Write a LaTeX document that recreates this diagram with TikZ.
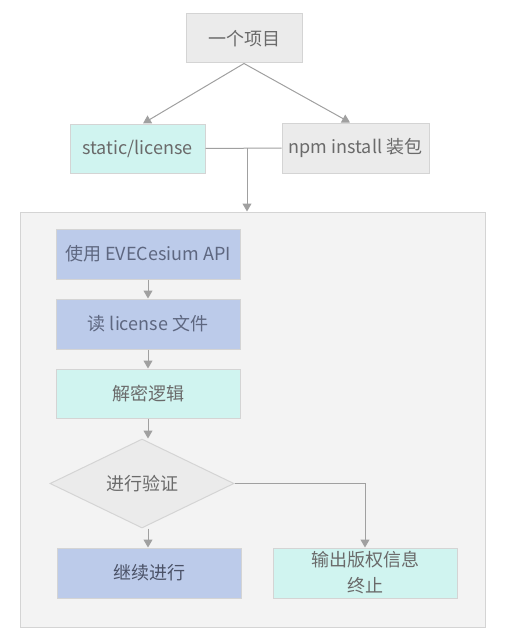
\documentclass[tikz,border=0pt]{standalone}
\usepackage{fontspec}
\setmainfont{Noto Sans CJK SC}
\usetikzlibrary{arrows.meta,shapes.geometric}
\definecolor{boxgrey}{HTML}{EBEBEB}
\definecolor{boxcyan}{HTML}{D0F4F0}
\definecolor{boxblue}{HTML}{BCCBEA}
\definecolor{framegrey}{HTML}{F3F3F3}
\definecolor{edgegrey}{HTML}{D4D4D4}
\definecolor{linegrey}{HTML}{A0A0A0}
\definecolor{textgrey}{HTML}{6A6A6A}
\definecolor{textblue}{HTML}{5E6780}

\begin{document}
\begin{tikzpicture}[x=1pt, y=-1pt, font=\fontsize{18}{26}\selectfont,
    box/.style = {draw=edgegrey, line width=1pt, minimum width=184pt, minimum height=50pt, inner sep=0pt, align=center, text=textgrey},
    grey/.style = {box, fill=boxgrey},
    cyan/.style = {box, fill=boxcyan},
    blue/.style = {box, fill=boxblue, text=textblue},
    decision/.style = {diamond, draw=edgegrey, fill=boxgrey, line width=1pt, minimum width=184pt, minimum height=89pt, inner sep=0pt, aspect=2.07, text=textgrey},
    flow/.style = {draw=linegrey, line width=1pt, -{Triangle[length=8pt, width=9pt]}}]

    \useasboundingbox (0,0) rectangle (508,642);

    % background frame
    \node[draw=edgegrey, fill=framegrey, line width=1pt, minimum width=465pt, minimum height=415pt] (frame) at (252.5,419.5) {};

    % top part
    \node[grey, minimum width=116pt, minimum height=49pt] (project) at (244,38.5) {一个项目};
    \node[cyan, minimum width=135pt, minimum height=49pt] (static) at (137.5,148.5) {static/license};
    \node[grey, minimum width=147pt] (npm) at (355.5,148) {npm install 装包};

    % inside the frame
    \node[blue] (api) at (148,254) {使用 EVECesium API};
    \node[blue] (read) at (148,324) {读 license 文件};
    \node[cyan, minimum height=49pt] (decrypt) at (148,393.5) {解密逻辑};
    \node[decision] (check) at (142,483.5) {进行验证};
    \node[blue, text=textblue!80!black] (go) at (149,573) {继续进行};
    \node[cyan] (stop) at (365,573) {输出版权信息\\终止};

    % connectors
    \coordinate (j) at (247,148);
    \draw[flow] (project.south) -- (static.north -| 143,0);
    \draw[flow] (project.south) -- (npm.north -| 350,0);
    \draw[draw=linegrey, line width=1pt] (static.east) -- (npm.west);
    \draw[flow] (j) -- (frame.north -| j);
    \draw[flow] (api) -- (read);
    \draw[flow] (read) -- (decrypt);
    \draw[flow] (decrypt) -- (decrypt.south |- check.north);
    \draw[flow] (decrypt.south |- check.south) -- (decrypt.south |- go.north);
    \draw[flow] (check.east) -| (stop.north);

\end{tikzpicture}
\end{document}
